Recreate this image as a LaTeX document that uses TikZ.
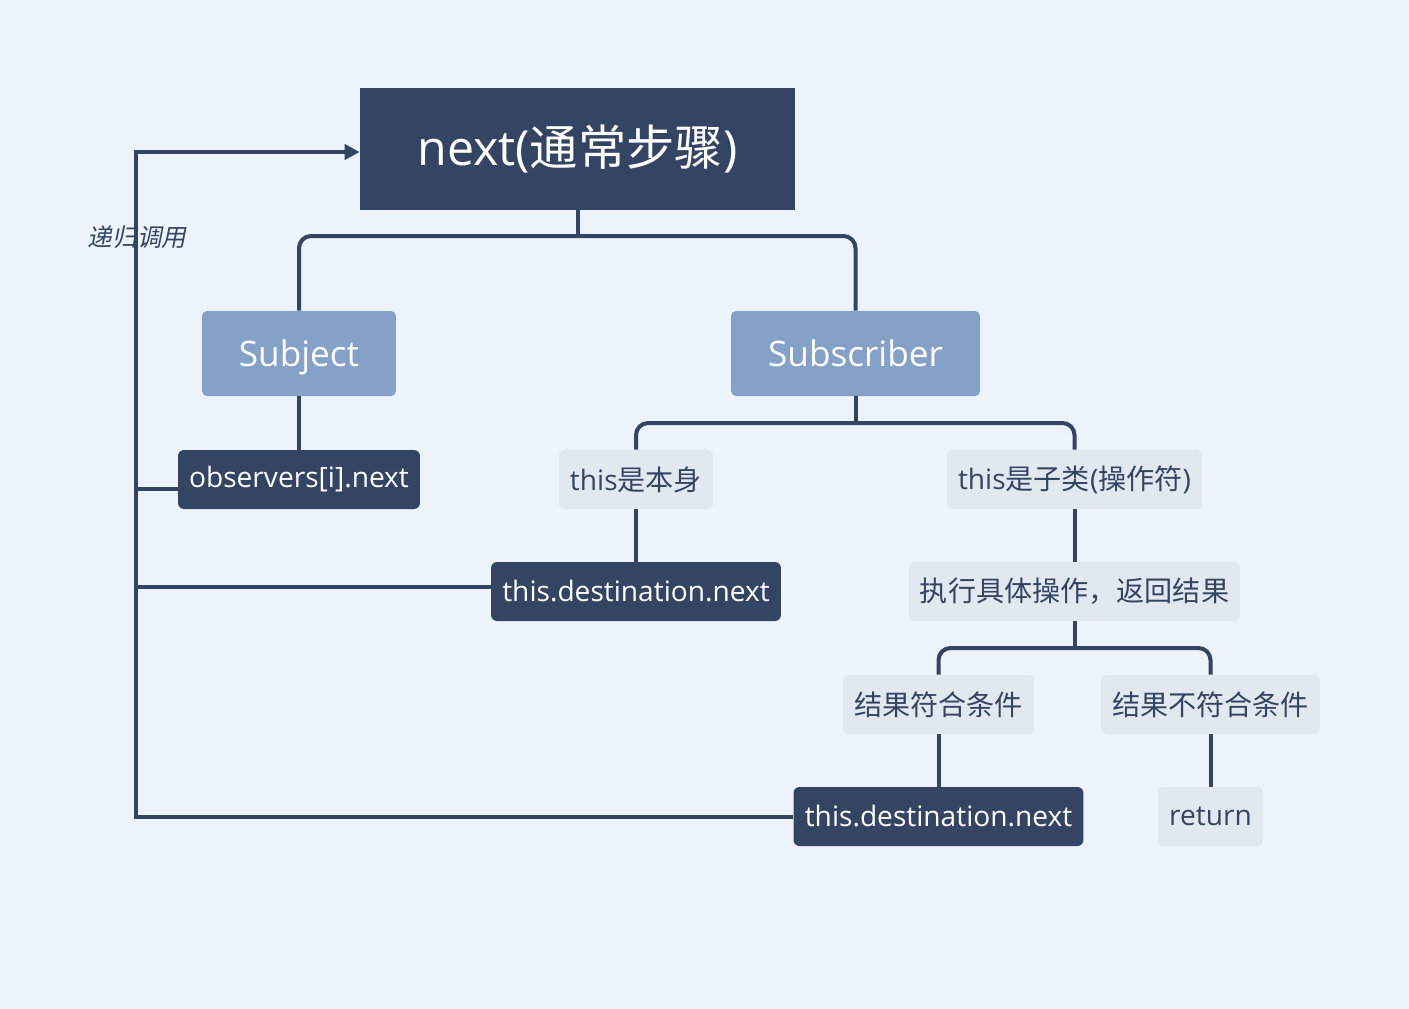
\documentclass[tikz,border=0pt]{standalone}
\usepackage{fontspec}
\setmainfont{Open Sans}
\newfontfamily\cjkfont{Noto Sans CJK SC}
\newfontfamily\cjkslant[FakeSlant=0.2]{Noto Sans CJK SC}
\newcommand{\zhtext}[1]{{\cjkfont #1}}
\usetikzlibrary{arrows.meta}
\definecolor{bg}{HTML}{ECF3FB}
\definecolor{navy}{HTML}{344563}
\definecolor{steel}{HTML}{85A1C8}
\definecolor{mist}{HTML}{E2E8F0}
\tikzstyle{root} = [rectangle, fill=navy, text=white, inner sep=0, minimum height=2.44cm, font=\fontsize{27.5}{31}\selectfont]
\tikzstyle{branch} = [rectangle, rounded corners=0.1cm, fill=steel, text=white, inner sep=0, minimum height=1.7cm, text height=14.3pt, text depth=0pt, font=\fontsize{20}{24}\selectfont]
\tikzstyle{callbox} = [rectangle, rounded corners=0.12cm, fill=navy, text=white, inner sep=0, minimum height=1.18cm, font=\fontsize{16}{19}\selectfont]
\tikzstyle{leaf} = [rectangle, rounded corners=0.12cm, fill=mist, text=navy, inner sep=0, minimum height=1.18cm, font=\fontsize{16}{19}\selectfont]
\tikzstyle{link} = [navy, line width=0.08cm]
\tikzstyle{arrow} = [link, -{Triangle[length=0.3cm,width=0.3cm]}]

\begin{document}
\begin{tikzpicture}[x=0.02cm, y=-0.02cm]
\useasboundingbox (0,0) rectangle (1409,1008);
\fill[bg] (-5,-5) rectangle (1414,1013);
% nodes
\node[root, minimum width=8.7cm] (next) at (577.5,149) {next(\zhtext{通常步骤})};
\node[branch, minimum width=3.88cm] (subj) at (299,353.5) {Subject};
\node[branch, minimum width=4.98cm] (subscr) at (855.5,353.5) {Subscriber};
\node[callbox, minimum width=4.84cm] (obs) at (299,479.5) {observers[i].next};
\node[leaf, minimum width=3.08cm] (self) at (636,479.5) {this\zhtext{是本身}};
\node[leaf, minimum width=5.1cm] (child) at (1074.5,479.5) {this\zhtext{是子类}(\zhtext{操作符})};
\node[callbox, minimum width=5.8cm] (destA) at (636,591.5) {this.destination.next};
\node[leaf, minimum width=6.62cm] (exec) at (1074.5,591.5) {\zhtext{执行具体操作，返回结果}};
\node[leaf, minimum width=3.82cm] (match) at (938.5,704.5) {\zhtext{结果符合条件}};
\node[leaf, minimum width=4.38cm] (nomatch) at (1210.5,704.5) {\zhtext{结果不符合条件}};
\node[callbox, minimum width=5.8cm] (destB) at (938.5,816.5) {this.destination.next};
\node[leaf, minimum width=2.1cm] (ret) at (1210.5,816.5) {return};
% tree lines
\coordinate (j1) at (577.5,236);
\coordinate (j2) at (855.5,423);
\coordinate (j3) at (1074.5,648);
\draw[link] (next.south) -- (j1);
\draw[link, rounded corners=0.24cm] (subj.north) |- (j1) -| (subscr.north);
\draw[link] (subj.south) -- (obs.north);
\draw[link] (subscr.south) -- (j2);
\draw[link, rounded corners=0.24cm] (self.north) |- (j2) -| (child.north);
\draw[link] (self.south) -- (destA.north);
\draw[link] (child.south) -- (exec.north);
\draw[link] (exec.south) -- (j3);
\draw[link, rounded corners=0.24cm] (match.north) |- (j3) -| (nomatch.north);
\draw[link] (match.south) -- (destB.north);
\draw[link] (nomatch.south) -- (ret.north);
% recursion
\coordinate (rb) at (136,152);
\draw[arrow] (destB.west) -| (rb) -- (next.west |- rb);
\draw[link] ([yshift=-0.19cm]obs.west) -- ([yshift=-0.19cm]obs.west -| rb);
\draw[link] ([yshift=0.09cm]destA.west) -- ([yshift=0.09cm]destA.west -| rb);
\node[text=navy, font=\cjkslant\fontsize{14}{16}\selectfont] (recur) at (137,237) {递归调用};
\end{tikzpicture}
\end{document}
